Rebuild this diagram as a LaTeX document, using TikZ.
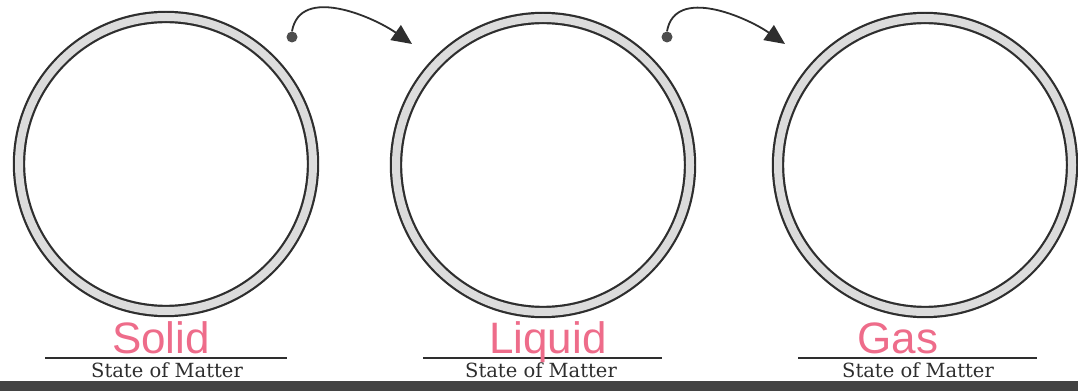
\documentclass[tikz,border=0pt]{standalone}
\usepackage{fontspec}
\usetikzlibrary{arrows.meta}
\newfontfamily\labelfont{DejaVu Serif}
\newfontfamily\handfont{Liberation Sans}
\definecolor{ink}{HTML}{2E2E2E}
\definecolor{pinkink}{HTML}{EE6C8A}
\definecolor{ringfill}{HTML}{DCDCDC}
\tikzset{
  ring/.style={circle, draw=ink, line width=2.2pt, double=ringfill, double distance=8pt,
    minimum size=294pt, inner sep=0pt, outer sep=0pt},
  caption/.style={anchor=base, text=ink, font=\labelfont\fontsize{19.5}{22}\selectfont, inner sep=0pt},
  hand/.style={anchor=base, text=pinkink, font=\handfont\fontsize{44}{50}\selectfont, inner sep=0pt},
  flow/.style={draw=ink, line width=1.8pt, -{Triangle[length=20pt,width=18pt]}},
  dotstyle/.style={circle, fill=ink!85, minimum size=11pt, inner sep=0pt}
}
\begin{document}
\begin{tikzpicture}[x=1pt,y=1pt]
\useasboundingbox (0,0) rectangle (1078,391);
\fill[white] (0,0) rectangle (1078,391);
% circles
\node[ring] (c1) at (166,227) {};
\node[ring] (c2) at (543,226) {};
\node[ring] (c3) at (925,226) {};
% arrows
\node[dotstyle] (d1) at (292,354) {};
\coordinate (t1) at (412,347);
\draw[flow] (d1.north) to[out=80,in=145] (t1);
\node[dotstyle] (d2) at (667,354) {};
\coordinate (t2) at (785,347);
\draw[flow] (d2.north) to[out=80,in=145] (t2);
% underlines
\coordinate (l1a) at (45,33); \coordinate (l1b) at (287,33);
\coordinate (l2a) at (423,33); \coordinate (l2b) at (662,33);
\coordinate (l3a) at (798,33); \coordinate (l3b) at (1037,33);
\draw[ink, line width=1.4pt] (l1a) -- (l1b);
\draw[ink, line width=1.4pt] (l2a) -- (l2b);
\draw[ink, line width=1.4pt] (l3a) -- (l3b);
% captions
\node[caption] (s1) at (167,14) {State of Matter};
\node[caption] (s2) at (541,14) {State of Matter};
\node[caption] (s3) at (918,14) {State of Matter};
% handwriting
\node[hand] (h1) at (161,38) {Solid};
\node[hand] (h2) at (548,38) {Liquid};
\node[hand] (h3) at (898,38) {Gas};
% bottom bar
\fill[ink!90] (0,0) rectangle (1078,10);
\end{tikzpicture}
\end{document}
